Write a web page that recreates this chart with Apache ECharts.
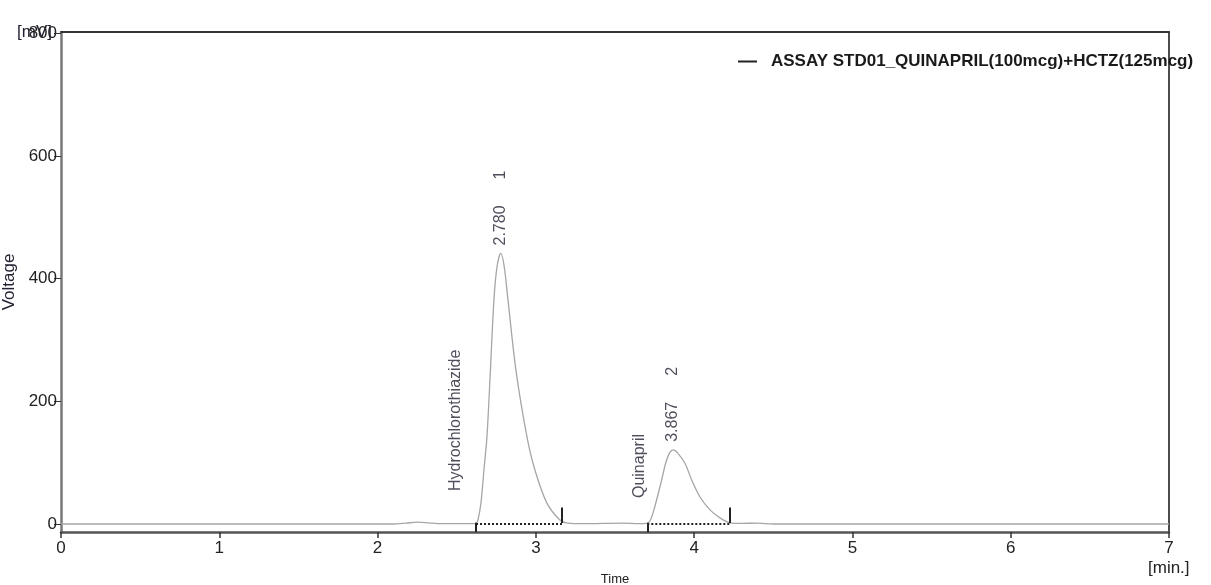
<!DOCTYPE html>
<html>
<head>
<meta charset="utf-8">
<title>ASSAY STD01</title>
<script src="https://cdn.jsdelivr.net/npm/echarts@6/dist/echarts.min.js"></script>
<style>
html, body { margin: 0; padding: 0; background: #fff; }
#main { width: 1211px; height: 585px; }
</style>
</head>
<body>
<div id="main"></div>
<script>
// signal (time in min, voltage in mV)
var signalTime = [0, 2.1, 2.18, 2.25, 2.32, 2.4, 2.55, 2.62,
  2.634, 2.653, 2.672, 2.691, 2.71, 2.735, 2.755, 2.778, 2.8, 2.824, 2.874, 2.944, 2.994, 3.07, 3.152, 3.2, 3.3,
  3.55, 3.65, 3.7, 3.721, 3.746, 3.795, 3.82, 3.845, 3.868, 3.895, 3.942, 3.984, 4.037, 4.1, 4.163, 4.226, 4.3,
  4.4, 4.5, 7];
var signalMv = [0, 0, 1.5, 3, 2, 0.5, 0.5, 1,
  6.5, 34, 88, 142, 235, 365, 420, 441, 420, 365, 251, 142, 88, 34, 6.5, 1.5, 0.5,
  1.5, 0.5, 1, 5, 23, 72, 99, 116, 121, 116, 99, 72, 44, 23, 10, 2, 1,
  1.5, 0, 0];

var peakNames = ['Hydrochlorothiazide', 'Quinapril'];
var peakNo = ['1', '2'];
var peakRT = ['2.780', '3.867'];
var peakApex = [441, 121];
var peakStart = [2.622, 3.704];
var peakEnd = [3.165, 4.226];

var xTicks = [0, 1, 2, 3, 4, 5, 6, 7];
var yTicks = [0, 200, 400, 600, 800];
var yMin = -13, yMax = 802;

var chart = echarts.init(document.getElementById('main'));

var signal = [];
for (var i = 0; i < signalTime.length; i++) signal.push([signalTime[i], signalMv[i]]);

// integration marks: dotted baseline, tick down at start, tick up at end
var marks = [];
for (var k = 0; k < peakStart.length; k++) {
  marks.push([{ coord: [peakStart[k], 1] }, { coord: [peakEnd[k], 1] }]);
  marks.push([{ coord: [peakStart[k], 2], lineStyle: { type: 'solid', width: 2 } }, { coord: [peakStart[k], yMin] }]);
  marks.push([{ coord: [peakEnd[k], 27], lineStyle: { type: 'solid', width: 2 } }, { coord: [peakEnd[k], 1.5] }]);
}

var rtPoints = peakRT.map(function (rt, k) {
  return { value: [parseFloat(rt), peakApex[k]], rt: rt, no: peakNo[k] };
});
var nameDist = [33, 26];
var nameShift = [-20, -8];
var namePoints = peakNames.map(function (n, k) {
  return {
    value: [peakStart[k], 0], name: n,
    label: { distance: nameDist[k], offset: [0, nameShift[k]] }
  };
});

var labelFont = 'Liberation Sans, Arial, sans-serif';

chart.setOption({
  animation: false,
  grid: { left: 61, right: 42, top: 32, bottom: 53, outerBoundsMode: 'none', containLabel: false },
  legend: {
    left: 733, top: 48,
    icon: 'rect', itemWidth: 19, itemHeight: 2,
    itemStyle: { color: '#222' },
    textStyle: { fontFamily: labelFont, fontWeight: 'bold', fontSize: 17, color: '#1a1a1a', padding: [0, 0, 0, 9] },
    data: ['ASSAY STD01_QUINAPRIL(100mcg)+HCTZ(125mcg)']
  },
  xAxis: [{
    type: 'value', min: 0, max: 7, interval: 1,
    name: 'Time', nameLocation: 'middle', nameGap: 41,
    nameTextStyle: { fontFamily: labelFont, fontSize: 13, color: '#222' },
    axisLine: { onZero: false, lineStyle: { color: '#555', width: 2.5 } },
    axisTick: { length: 6, lineStyle: { color: '#333', width: 1.5 } },
    axisLabel: { margin: 8, fontFamily: labelFont, fontSize: 17, color: '#222' },
    splitLine: { show: false }
  }, {
    type: 'value', min: 0, max: 7, position: 'top',
    axisLine: { show: true, onZero: false, lineStyle: { color: '#333', width: 2 } },
    axisTick: { show: false }, axisLabel: { show: false }, splitLine: { show: false }
  }],
  yAxis: [{
    type: 'value', min: yMin, max: yMax,
    name: 'Voltage', nameLocation: 'middle', nameGap: 36, nameRotate: 90,
    nameTextStyle: { fontFamily: labelFont, fontSize: 17, color: '#223' },
    axisLine: { show: true, onZero: false, lineStyle: { color: '#777', width: 2.5 } },
    axisTick: { show: true, length: 7, customValues: yTicks, lineStyle: { color: '#333' } },
    axisLabel: { margin: 4, customValues: yTicks, fontFamily: labelFont, fontSize: 17, color: '#222' },
    splitLine: { show: false }
  }, {
    type: 'value', min: yMin, max: yMax, position: 'right',
    axisLine: { show: true, onZero: false, lineStyle: { color: '#111', width: 1.5 } },
    axisTick: { show: false }, axisLabel: { show: false }, splitLine: { show: false }
  }],
  graphic: [
    { type: 'text', left: 17, top: 24, style: { text: '[mV]', font: '17px ' + labelFont, fill: '#223' } },
    { type: 'text', left: 1148, top: 560, style: { text: '[min.]', font: '17px ' + labelFont, fill: '#222' } }
  ],
  series: [{
    name: 'ASSAY STD01_QUINAPRIL(100mcg)+HCTZ(125mcg)',
    type: 'line',
    data: signal,
    symbol: 'none',
    smooth: 0.3,
    lineStyle: { color: '#a6a6a6', width: 1.3 },
    itemStyle: { color: '#222' },
    silent: true,
    markLine: {
      silent: true, symbol: 'none', label: { show: false },
      lineStyle: { color: '#222', type: 'dotted', width: 2 },
      data: marks
    }
  }, {
    type: 'scatter', symbolSize: 0, silent: true,
    data: rtPoints,
    label: {
      show: true, position: 'top', distance: 8, rotate: 90,
      align: 'left', verticalAlign: 'middle',
      fontFamily: labelFont, fontSize: 16, color: '#223',
      formatter: function (p) { return '{a|' + p.data.rt + '}{b|' + p.data.no + '}'; },
      rich: { a: { fontSize: 16, color: '#223' }, b: { fontSize: 16, color: '#223', padding: [0, 0, 0, 26] } }
    }
  }, {
    type: 'scatter', symbolSize: 0, silent: true,
    data: namePoints,
    label: {
      show: true, position: 'top', rotate: 90,
      align: 'left', verticalAlign: 'middle',
      fontFamily: labelFont, fontSize: 16, color: '#223',
      formatter: '{b}'
    }
  }]
});
</script>
</body>
</html>
